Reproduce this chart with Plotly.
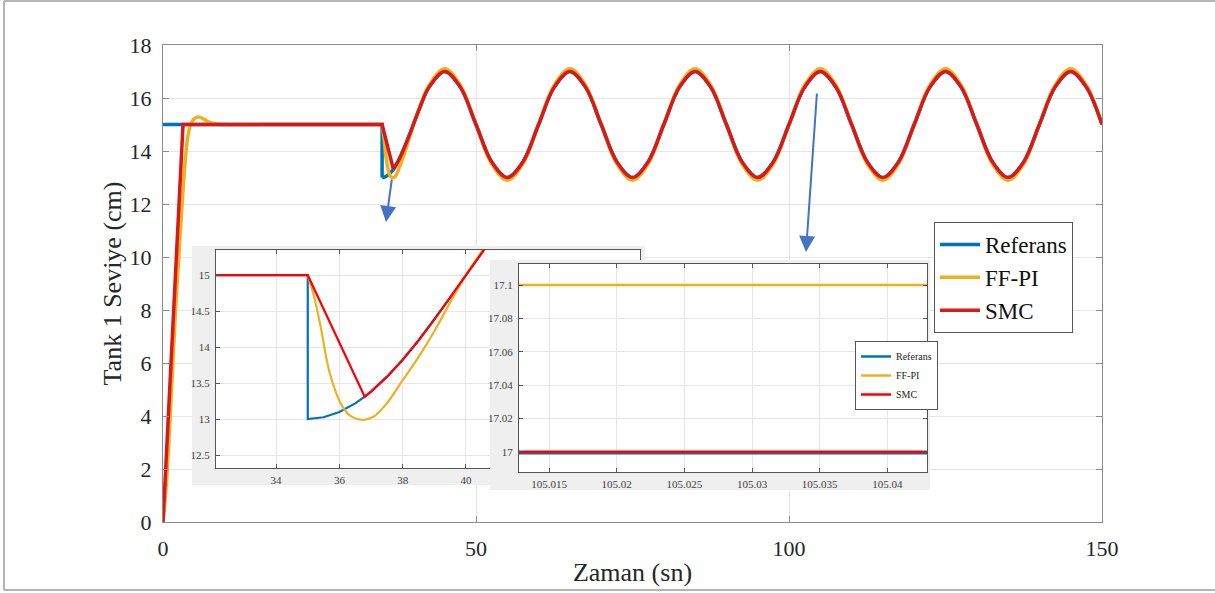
import plotly.graph_objects as go

# ---------------- data ----------------
# main chart: reference (Referans)
t_ref_start = [0, 35, 35]
ref_start = [15, 15, 13]

t_dense = [35, 35.5, 36, 36.5, 36.8, 37, 37.5, 38, 38.5, 39, 39.5, 40, 40.5, 41]
ref_dense = [13.0, 13.025, 13.098, 13.218, 13.311, 13.382, 13.586, 13.824, 14.092,
             14.382, 14.687, 15.0, 15.313, 15.618]

t_wave = [42.5, 45, 47.5, 50, 52.5, 55, 57.5, 60, 62.5, 65, 67.5, 70, 72.5, 75, 77.5,
          80, 82.5, 85, 87.5, 90, 92.5, 95, 97.5, 100, 102.5, 105, 107.5, 110, 112.5,
          115, 117.5, 120, 122.5, 125, 127.5, 130, 132.5, 135, 137.5, 140, 142.5, 145,
          147.5, 150]
ref_wave = [16.41, 17, 16.41, 15, 13.59, 13, 13.59, 15,
            16.41, 17, 16.41, 15, 13.59, 13, 13.59, 15,
            16.41, 17, 16.41, 15, 13.59, 13, 13.59, 15,
            16.41, 17, 16.41, 15, 13.59, 13, 13.59, 15,
            16.41, 17, 16.41, 15, 13.59, 13, 13.59, 15,
            16.41, 17, 16.41, 15]
ffpi_wave = [16.48, 17.1, 16.48, 15, 13.52, 12.9, 13.52, 15,
             16.48, 17.1, 16.48, 15, 13.52, 12.9, 13.52, 15,
             16.48, 17.1, 16.48, 15, 13.52, 12.9, 13.52, 15,
             16.48, 17.1, 16.48, 15, 13.52, 12.9, 13.52, 15,
             16.48, 17.1, 16.48, 15, 13.52, 12.9, 13.52, 15,
             16.48, 17.1, 16.48, 15]

# FF-PI start-up and disturbance dip
t_ffpi_start = [0, 0.5, 1, 1.5, 2, 2.5, 3, 3.5, 4, 4.5, 5, 5.75, 6.5, 7.5, 8.5, 9.5, 20, 35]
ffpi_start = [0, 1.3, 3.3, 5.6, 8.0, 9.9, 11.8, 13.5, 14.6, 15.05, 15.22, 15.28, 15.2,
              15.08, 15.02, 15.0, 15.0, 15.0]
t_ffpi_dip = [35, 35.2, 35.4, 35.7, 36.1, 36.4, 36.75, 37.1, 37.5, 38, 38.5, 39, 39.5, 40, 40.5, 41]
ffpi_dip = [15, 14.7, 14.3, 13.63, 13.17, 13.03, 12.99, 13.04, 13.22, 13.54, 13.86,
            14.22, 14.62, 15.0, 15.33, 15.65]

# SMC start-up and dip
t_smc_start = [0, 3.2, 35, 36.8]
smc_start = [0, 15, 15, 13.311]

# second zoom (t ~ 105.02 s)
t_zoom2 = [105.0125, 105.043]
ref_zoom2 = [16.9993, 16.9993]
ffpi_zoom2 = [17.1, 17.1]
smc_zoom2 = [17.0002, 17.0002]

# tick labels
main_xticks = [0, 50, 100, 150]
main_yticks = [0, 2, 4, 6, 8, 10, 12, 14, 16, 18]
z1_xticks = [34, 36, 38, 40]
z1_xlabels = ["34", "36", "38", "40"]
z1_yticks = [12.5, 13, 13.5, 14, 14.5, 15]
z1_ylabels = ["12.5", "13", "13.5", "14", "14.5", "15"]
z2_xticks = [105.015, 105.02, 105.025, 105.03, 105.035, 105.04]
z2_xlabels = ["105.015", "105.02", "105.025", "105.03", "105.035", "105.04"]
z2_yticks = [17, 17.02, 17.04, 17.06, 17.08, 17.1]
z2_ylabels = ["17", "17.02", "17.04", "17.06", "17.08", "17.1"]

# ---------------- styling / layout ----------------
W, H = 1215, 593
L, R, T, B = 163, 113, 45, 71
PW, PH = W - L - R, H - T - B


def px(x):
    return (x - L) / PW


def py(y):
    return (H - B - y) / PH


BLUE = "#0072BD"
YEL = "#EDB120"
RED_MAIN = "#D7191C"
RED_IN = "#FF0000"
FONT = "Liberation Serif"
FRAME = "#efefef"

fig = go.Figure()

# ---- main chart traces ----
lw = 3.5
fig.add_trace(go.Scatter(x=t_ref_start, y=ref_start, mode="lines", name="Referans",
                         line=dict(color=BLUE, width=lw), xaxis="x", yaxis="y"))
fig.add_trace(go.Scatter(x=t_dense + t_wave, y=ref_dense + ref_wave, mode="lines",
                         showlegend=False, line=dict(color=BLUE, width=lw, shape="spline"),
                         xaxis="x", yaxis="y"))
fig.add_trace(go.Scatter(x=t_ffpi_start, y=ffpi_start, mode="lines", name="FF-PI",
                         line=dict(color=YEL, width=lw, shape="spline"), xaxis="x", yaxis="y"))
fig.add_trace(go.Scatter(x=t_ffpi_dip + t_wave, y=ffpi_dip + ffpi_wave, mode="lines",
                         showlegend=False, line=dict(color=YEL, width=lw, shape="spline"),
                         xaxis="x", yaxis="y"))
fig.add_trace(go.Scatter(x=t_smc_start, y=smc_start, mode="lines", name="SMC",
                         line=dict(color=RED_MAIN, width=lw), xaxis="x", yaxis="y"))
fig.add_trace(go.Scatter(x=t_dense[4:] + t_wave, y=ref_dense[4:] + ref_wave, mode="lines",
                         showlegend=False, line=dict(color=RED_MAIN, width=lw, shape="spline"),
                         xaxis="x", yaxis="y"))

# ---- frame behind zoom 1 ----
fig.add_trace(go.Scatter(x=[0, 1, 1, 0, 0], y=[0, 0, 1, 1, 0], mode="lines", fill="toself",
                         fillcolor=FRAME, line=dict(width=0, color=FRAME), showlegend=False,
                         hoverinfo="skip", xaxis="x2", yaxis="y2"))
# ---- zoom 1 traces ----
zw = 2.2
fig.add_trace(go.Scatter(x=t_ref_start + t_dense[1:], y=ref_start + ref_dense[1:], mode="lines",
                         showlegend=False, line=dict(color=BLUE, width=zw),
                         xaxis="x3", yaxis="y3"))
fig.add_trace(go.Scatter(x=t_ffpi_dip, y=ffpi_dip, mode="lines", showlegend=False,
                         line=dict(color=YEL, width=zw, shape="spline"),
                         xaxis="x3", yaxis="y3"))
fig.add_trace(go.Scatter(x=t_smc_start + t_dense[5:], y=smc_start + ref_dense[5:], mode="lines",
                         showlegend=False, line=dict(color=RED_IN, width=zw),
                         xaxis="x3", yaxis="y3"))

# ---- frame behind zoom 2 ----
fig.add_trace(go.Scatter(x=[0, 1, 1, 0, 0], y=[0, 0, 1, 1, 0], mode="lines", fill="toself",
                         fillcolor=FRAME, line=dict(width=0, color=FRAME), showlegend=False,
                         hoverinfo="skip", xaxis="x4", yaxis="y4"))
# ---- zoom 2 traces ----
fig.add_trace(go.Scatter(x=t_zoom2, y=ref_zoom2, mode="lines", name="Referans", legend="legend2",
                         line=dict(color=BLUE, width=2.5), xaxis="x5", yaxis="y5"))
fig.add_trace(go.Scatter(x=t_zoom2, y=ffpi_zoom2, mode="lines", name="FF-PI", legend="legend2",
                         line=dict(color=YEL, width=2.5), xaxis="x5", yaxis="y5"))
fig.add_trace(go.Scatter(x=t_zoom2, y=smc_zoom2, mode="lines", name="SMC", legend="legend2",
                         line=dict(color=RED_IN, width=2.5), xaxis="x5", yaxis="y5"))

# ---- axes ----
main_font = dict(family=FONT, size=22, color="#262626")
small_font = dict(family=FONT, size=11, color="#404040")

fig.update_layout(
    width=W, height=H,
    margin=dict(l=L, r=R, t=T, b=B, autoexpand=False),
    paper_bgcolor="white", plot_bgcolor="white",
    font=dict(family=FONT, color="#262626"),
    xaxis=dict(domain=[0, 1], anchor="y", range=[0, 150], tickvals=main_xticks,
               showgrid=True, gridcolor="#e6e6e6", zeroline=False,
               showline=True, linecolor="#8c8c8c", linewidth=1.2, mirror="ticks",
               ticks="inside", ticklen=6, tickcolor="#8c8c8c", tickfont=main_font,
               ticklabelstandoff=6,
               title=dict(text="Zaman (sn)", font=dict(family=FONT, size=26, color="#262626"),
                          standoff=3)),
    yaxis=dict(domain=[0, 1], anchor="x", range=[0, 18], tickvals=main_yticks,
               showgrid=True, gridcolor="#e6e6e6", zeroline=False,
               showline=True, linecolor="#8c8c8c", linewidth=1.2, mirror="ticks",
               ticks="inside", ticklen=6, tickcolor="#8c8c8c", tickfont=main_font,
               ticklabelstandoff=6,
               title=dict(text="Tank 1 Seviye (cm)", font=dict(family=FONT, size=26, color="#262626"),
                          standoff=0)),
    # frame 1
    xaxis2=dict(domain=[px(192), px(645)], anchor="y2", range=[0, 1], visible=False, fixedrange=True),
    yaxis2=dict(domain=[py(485), py(246)], anchor="x2", range=[0, 1], visible=False, fixedrange=True),
    # zoom 1
    xaxis3=dict(domain=[px(216), px(640)], anchor="y3", range=[32.1, 45.5],
                tickvals=z1_xticks, ticktext=z1_xlabels, showgrid=True, gridcolor="#e6e6e6",
                zeroline=False, showline=True, linecolor="#555555", linewidth=1, mirror="ticks",
                ticks="inside", ticklen=4, tickcolor="#555555", tickfont=small_font,
                ticklabelstandoff=2),
    yaxis3=dict(domain=[py(468), py(250)], anchor="x3", range=[12.32, 15.35],
                tickvals=z1_yticks, ticktext=z1_ylabels, showgrid=True, gridcolor="#e6e6e6",
                zeroline=False, showline=True, linecolor="#555555", linewidth=1, mirror="ticks",
                ticks="inside", ticklen=4, tickcolor="#555555", tickfont=small_font,
                ticklabelstandoff=3),
    # frame 2
    xaxis4=dict(domain=[px(490), px(930)], anchor="y4", range=[0, 1], visible=False, fixedrange=True),
    yaxis4=dict(domain=[py(490), py(260)], anchor="x4", range=[0, 1], visible=False, fixedrange=True),
    # zoom 2
    xaxis5=dict(domain=[px(519), px(927)], anchor="y5", range=[105.01278, 105.04293],
                tickvals=z2_xticks, ticktext=z2_xlabels, showgrid=True, gridcolor="#e6e6e6",
                zeroline=False, showline=True, linecolor="#555555", linewidth=1, mirror="ticks",
                ticks="inside", ticklen=4, tickcolor="#555555", tickfont=small_font,
                ticklabelstandoff=2),
    yaxis5=dict(domain=[py(472), py(264)], anchor="x5", range=[16.988, 17.1126],
                tickvals=z2_yticks, ticktext=z2_ylabels, showgrid=True, gridcolor="#e6e6e6",
                zeroline=False, showline=True, linecolor="#555555", linewidth=1, mirror="ticks",
                ticks="inside", ticklen=4, tickcolor="#555555", tickfont=small_font,
                ticklabelstandoff=3),
    legend=dict(x=px(934), y=py(222), xanchor="left", yanchor="top",
                bgcolor="white", bordercolor="#555555", borderwidth=1,
                font=dict(family=FONT, size=23, color="#111111"),
                tracegroupgap=0, itemwidth=40),
    legend2=dict(x=px(855), y=py(341), xanchor="left", yanchor="top",
                 bgcolor="white", bordercolor="#555555", borderwidth=1,
                 font=dict(family=FONT, size=10, color="#222222"),
                 tracegroupgap=0, itemwidth=30),
    showlegend=True,
)

# ---- arrows ----
ARROW = "#4472C4"
fig.add_annotation(x=px(386), y=py(222), xref="paper", yref="paper", text="",
                   showarrow=True, ax=6, ay=-44, arrowhead=2, arrowsize=1.6,
                   arrowwidth=2, arrowcolor=ARROW, standoff=0)
fig.add_annotation(x=px(806), y=py(252), xref="paper", yref="paper", text="",
                   showarrow=True, ax=11, ay=-160, arrowhead=2, arrowsize=1.6,
                   arrowwidth=2, arrowcolor=ARROW, standoff=0)

# ---- outer picture border ----
BORDER = "#b4b4b4"
fig.add_shape(type="line", xref="paper", yref="paper", x0=px(4), x1=px(4), y0=py(1), y1=py(590),
              line=dict(color=BORDER, width=2))
fig.add_shape(type="line", xref="paper", yref="paper", x0=px(4), x1=px(1215), y0=py(1), y1=py(1),
              line=dict(color=BORDER, width=2))
fig.add_shape(type="line", xref="paper", yref="paper", x0=px(4), x1=px(1215), y0=py(590), y1=py(590),
              line=dict(color=BORDER, width=2))

fig.write_html("out.html")
